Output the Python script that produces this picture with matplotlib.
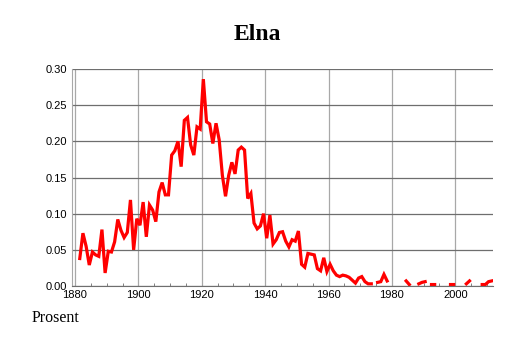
import numpy as np
import matplotlib.pyplot as plt
from matplotlib.ticker import MultipleLocator

# andel (prosent) per år, NaN = ingen data
years = np.arange(1881, 2012)
values = [
    0.038, 0.073, 0.055, 0.029, 0.047, 0.043, 0.041, 0.078, 0.018, 0.048,   # 1881-1890
    0.047, 0.061, 0.092, 0.077, 0.067, 0.074, 0.119, 0.050, 0.093, 0.084,   # 1891-1900
    0.116, 0.068, 0.112, 0.105, 0.089, 0.130, 0.143, 0.126, 0.126, 0.181,   # 1901-1910
    0.187, 0.200, 0.165, 0.229, 0.233, 0.195, 0.181, 0.220, 0.217, 0.286,   # 1911-1920
    0.227, 0.224, 0.197, 0.225, 0.202, 0.153, 0.124, 0.153, 0.171, 0.155,   # 1921-1930
    0.188, 0.192, 0.188, 0.121, 0.128, 0.087, 0.079, 0.083, 0.100, 0.066,   # 1931-1940
    0.098, 0.058, 0.064, 0.074, 0.075, 0.062, 0.054, 0.064, 0.062, 0.076,   # 1941-1950
    0.030, 0.026, 0.045, 0.044, 0.043, 0.024, 0.021, 0.039, 0.020, 0.030,   # 1951-1960
    0.021, 0.015, 0.013, 0.015, 0.014, 0.012, 0.008, 0.004, 0.011, 0.013,   # 1961-1970
    0.006, 0.003, 0.003, np.nan, 0.005, 0.006, 0.016, 0.007, np.nan, np.nan, # 1971-1980
    np.nan, np.nan, np.nan, 0.007, 0.002, np.nan, np.nan, 0.003, 0.005, 0.006, # 1981-1990
    np.nan, 0.002, 0.002, np.nan, np.nan, np.nan, np.nan, 0.002, 0.002, np.nan, # 1991-2000
    np.nan, np.nan, 0.003, 0.007, np.nan, np.nan, np.nan, 0.002, 0.002, 0.006, # 2001-2010
    0.007,                                                                  # 2011
]

title = 'Elna'
ylabel_txt = 'Prosent'

fig = plt.figure(figsize=(5.14, 3.43), dpi=100)
ax = fig.add_axes([0.141, 0.1662, 0.8187, 0.6326])

# punktene ligger midt i året
ax.plot(years + 0.5, values, color='#ff0000', lw=2.3, solid_joinstyle='miter')

ax.set_xlim(1879.2, 2012.0)
ax.set_ylim(0, 0.30)
ax.xaxis.set_major_locator(MultipleLocator(20))
ax.xaxis.set_minor_locator(MultipleLocator(5))
ax.yaxis.set_major_locator(MultipleLocator(0.05))
ax.yaxis.set_major_formatter(plt.FuncFormatter(lambda v, p: f'{v:.2f}'))

ax.grid(axis='y', color='#6e6e6e', lw=0.9)
ax.grid(axis='x', color='#a8a8a8', lw=0.9)
ax.set_axisbelow(True)

for s in ['top', 'right']:
    ax.spines[s].set_visible(False)
ax.spines['left'].set_color('#a8a8a8')
ax.spines['bottom'].set_color('#6e6e6e')

ax.tick_params(axis='y', length=0, pad=4, labelsize=8, labelfontfamily='Liberation Sans')
ax.tick_params(axis='x', which='major', length=0, pad=3, labelsize=8, labelfontfamily='Liberation Sans')
ax.tick_params(axis='x', which='minor', direction='in', length=2.5, color='#6e6e6e')

fig.text(0.5, 0.9, title, ha='center', va='center', fontsize=17, fontweight='bold',
         family='Liberation Serif')
fig.text(0.062, 0.073, ylabel_txt, ha='left', va='center', fontsize=11.5,
         family='Liberation Serif')

fig.savefig('out.png', dpi=100)
